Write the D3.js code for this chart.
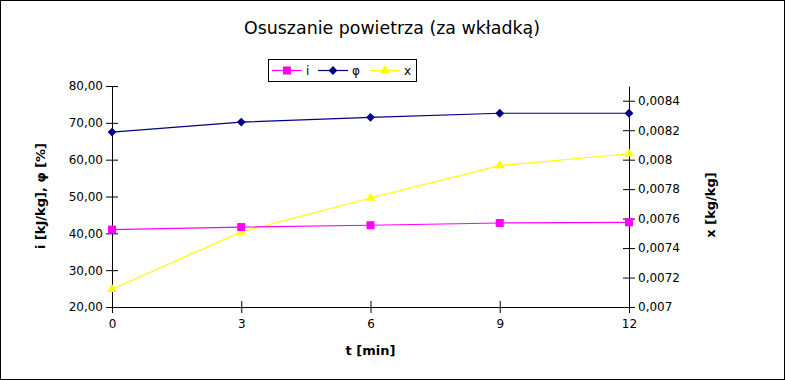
<!DOCTYPE html>
<html><head><meta charset="utf-8">
<script src="https://cdn.jsdelivr.net/npm/d3@7"></script>
<style>body{margin:0;background:#fff}svg{display:block;font-family:"DejaVu Sans",sans-serif}</style>
</head><body>
<svg id="c" width="785" height="380"></svg>
<script>
const times = [0, 3, 6, 9, 12];
const iValues = [41.0, 41.7, 42.2, 42.8, 43.0];
const phiValues = [67.5, 70.2, 71.5, 72.6, 72.6];
const xValues = [0.00712, 0.00751, 0.00774, 0.00796, 0.00804];
const leftTicks = [20, 30, 40, 50, 60, 70, 80];
const rightTicks = [0.007, 0.0072, 0.0074, 0.0076, 0.0078, 0.008, 0.0082, 0.0084];
const xTicks = [0, 3, 6, 9, 12];

const svg = d3.select("#c");
svg.append("rect").attr("x",0.5).attr("y",0.5).attr("width",784).attr("height",379)
  .attr("fill","#fff").attr("stroke","#000");

const L=112, R=629, T=86, B=307;
const x = d3.scaleLinear().domain([0,12]).range([L,R]);
const yL = d3.scaleLinear().domain([20,80]).range([B,T]);
const yR = d3.scaleLinear().domain([0.007,0.0085]).range([B,T]);

const fmtL = v => d3.format(".2f")(v).replace(".", ",");
const fmtR = v => String(+v.toFixed(4)).replace(".", ",");

const gl = svg.append("g").attr("transform",`translate(${L},0)`)
  .call(d3.axisLeft(yL).tickValues(leftTicks).tickFormat(fmtL).tickSize(6).tickPadding(3).tickSizeOuter(0));
gl.selectAll(".tick line").attr("x1",6);
const gr = svg.append("g").attr("transform",`translate(${R},0)`)
  .call(d3.axisRight(yR).tickValues(rightTicks).tickFormat(fmtR).tickSize(6).tickPadding(3).tickSizeOuter(0));
gr.selectAll(".tick line").attr("x1",-6);
const gb = svg.append("g").attr("transform",`translate(0,${B})`)
  .call(d3.axisBottom(x).tickValues(xTicks).tickFormat(d3.format("d")).tickSize(6).tickPadding(6).tickSizeOuter(0));
gb.selectAll(".tick line").attr("y1",-6);

svg.selectAll(".domain").attr("stroke","#000");
svg.selectAll(".tick line").attr("stroke","#000");
svg.selectAll(".tick text").attr("font-size",12).attr("font-family","DejaVu Sans").attr("fill","#000");

const diamond = { draw(ctx, size){ const r = Math.sqrt(size)/2*1.1; ctx.moveTo(0,-r); ctx.lineTo(r,0); ctx.lineTo(0,r); ctx.lineTo(-r,0); ctx.closePath(); } };

const plot = svg.append("g");
function series(vals, yScale, color, shape, size){
  const line = d3.line().x((d,i)=>x(times[i])).y(d=>yScale(d));
  plot.append("path").attr("d",line(vals)).attr("fill","none").attr("stroke",color).attr("stroke-width",1.2);
  plot.selectAll(null).data(vals).enter().append("path")
    .attr("d", d3.symbol().type(shape).size(size)())
    .attr("transform",(d,i)=>`translate(${x(times[i])},${yScale(d)})`)
    .attr("fill",color);
}
series(xValues, yR, "#ffff00", d3.symbolTriangle, 40);
series(iValues, yL, "#ff00ff", d3.symbolSquare, 64);
series(phiValues, yL, "#000080", diamond, 64);

svg.append("text").attr("x",392).attr("y",34).attr("text-anchor","middle")
  .attr("font-size",17.4).text("Osuszanie powietrza (za wkładką)");

svg.append("text").attr("x",(L+R)/2).attr("y",355).attr("text-anchor","middle")
  .attr("font-size",13).attr("font-weight","bold").text("t [min]");
svg.append("text").attr("transform","translate(45,196) rotate(-90)").attr("text-anchor","middle")
  .attr("font-size",13).attr("font-weight","bold").text("i [kJ/kg], φ [%]");
svg.append("text").attr("transform","translate(715,205) rotate(-90)").attr("text-anchor","middle")
  .attr("font-size",13).attr("font-weight","bold").text("x [kg/kg]");

const leg = svg.append("g");
leg.append("rect").attr("x",268.5).attr("y",59.5).attr("width",148).attr("height",22)
  .attr("fill","#fff").attr("stroke","#000");
const legItems = [
  {name:"i", color:"#ff00ff", shape:d3.symbolSquare, size:64, x0:272},
  {name:"φ", color:"#000080", shape:diamond, size:64, x0:318},
  {name:"x", color:"#ffff00", shape:d3.symbolTriangle, size:40, x0:370}
];
legItems.forEach(d=>{
  leg.append("line").attr("x1",d.x0).attr("x2",d.x0+30).attr("y1",70.5).attr("y2",70.5)
    .attr("stroke",d.color).attr("stroke-width",1.2);
  leg.append("path").attr("d",d3.symbol().type(d.shape).size(d.size)())
    .attr("transform",`translate(${d.x0+15},70.5)`).attr("fill",d.color);
  leg.append("text").attr("x",d.x0+34).attr("y",75).attr("font-size",12).text(d.name);
});
</script>
</body></html>
